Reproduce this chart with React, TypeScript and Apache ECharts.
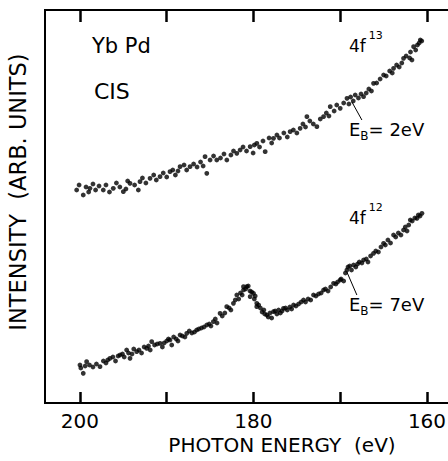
import React, { useEffect, useRef } from "react";
import * as echarts from "echarts";

// Photon energy (eV) and intensity (arb. units)
const upperEnergy: number[] = [
  200.38, 199.62, 198.85, 197.31, 196.16, 195.0, 194.23, 193.08, 193.27, 191.92, 190.77, 189.62, 188.46, 187.31, 185.38,
  185.58, 184.23, 183.07, 181.92, 180.38, 180.04, 181.54, 179.61, 177.69, 178.65, 175.77, 174.62, 173.84, 172.69, 171.92,
  171.15, 170.0, 169.22, 168.27, 167.31, 166.16, 165.0, 163.85, 162.7, 161.73, 161.54, 160.77,
  200.1, 199.3, 199.0, 198.5, 198.2, 197.8, 197.0, 196.6, 195.8, 195.4, 194.7, 194.5, 193.7, 192.8, 192.4, 191.5, 191.2,
  190.4, 190.0, 189.3, 189.0, 188.7, 188.0, 187.7, 186.9, 186.5, 186.1, 185.8, 185.0, 184.6, 183.8, 183.4, 182.6, 182.3,
  181.2, 180.8, 179.9, 179.3, 178.9, 178.2, 177.9, 177.3, 177.0, 176.5, 176.1, 175.4, 175.0, 174.3, 174.0, 173.5, 173.1,
  172.3, 171.6, 171.3, 170.7, 170.4, 169.6, 169.0, 168.8, 168.5, 167.9, 167.6, 167.0, 166.7, 166.4, 165.8, 165.4, 164.7,
  164.3, 164.0, 163.5, 163.2, 162.9, 162.4, 162.0, 161.9, 161.3, 161.1, 160.9, 160.6,
];
const upperIntensity: number[] = [
  213, 208, 214.7, 213, 214.7, 211.3, 219.7, 221.3, 213, 224.7, 226.3, 231.3, 236.3, 236.3, 229.7,
  246.3, 243, 243, 249.7, 256.3, 250, 253, 259.7, 264.7, 251.3, 271.3, 274.7, 286.3, 276.3, 286.3,
  296.3, 294.7, 304.7, 308, 306.3, 319.7, 328, 334.7, 344.7, 343, 356.3, 363,
  218, 216, 211, 219, 213, 217, 218, 211, 220, 216, 214, 222, 218, 225, 220, 228, 223,
  230, 226, 233, 228, 232, 238, 233, 239, 236, 241, 237, 243, 247, 245, 249, 248, 252,
  256, 252, 258, 256, 262, 265, 260, 268, 265, 270, 266, 273, 270, 279, 276, 282, 279,
  284, 290, 287, 292, 298, 300, 299, 306, 302, 305, 309, 310, 314, 312, 320, 324, 327,
  332, 330, 338, 336, 340, 347, 345, 351, 353, 358, 360, 362,
];

const lowerEnergy: number[] = [
  200.0, 199.62, 199.23, 197.69, 196.54, 195.38, 194.62, 194.23, 193.46, 192.31, 191.73, 190.77, 189.62, 189.42, 188.46,
  187.69, 186.54, 185.38, 184.62, 183.85, 183.08, 182.31, 181.92, 181.15, 180.77, 180.0, 179.62, 181.15, 180.38, 179.62,
  178.46, 177.69, 176.54, 175.38, 174.23, 173.08, 171.92, 170.77, 170.0, 169.23, 168.46, 167.31, 166.16, 165.0, 163.85,
  162.7, 161.92, 161.15, 160.58,
  199.9, 199.4, 198.9, 198.5, 198.1, 197.3, 197.0, 196.8, 196.2, 195.9, 195.6, 195.1, 194.9, 194.4, 194.0, 193.8, 193.2,
  192.9, 192.6, 192.1, 191.9, 191.4, 191.1, 190.5, 190.3, 190.0, 189.8, 189.2, 188.9, 188.7, 188.2, 187.9, 187.4, 187.1,
  186.8, 186.3, 186.0, 185.7, 185.1, 184.9, 184.4, 184.2, 183.6, 183.3, 182.8, 182.6, 182.1, 181.7, 181.5, 181.3, 180.9,
  180.6, 180.4, 180.2, 179.9, 179.8, 179.4, 179.2, 179.0, 178.8, 178.7, 178.3, 178.1, 177.9, 177.5, 177.3, 177.1, 176.9,
  176.7, 176.3, 176.1, 175.8, 175.6, 175.1, 174.8, 174.5, 174.0, 173.7, 173.4, 172.8, 172.5, 172.2, 171.7, 171.4, 171.1,
  170.5, 170.3, 169.9, 169.6, 169.4, 169.1, 168.9, 168.7, 168.2, 168.0, 167.8, 167.5, 167.0, 166.8, 166.5, 165.9, 165.6,
  165.3, 164.8, 164.5, 164.2, 163.6, 163.3, 163.0, 162.5, 162.3, 162.1, 161.7, 161.4, 161.0, 160.8,
];
const lowerIntensity: number[] = [
  38, 29.7, 41.3, 36.3, 44.7, 48, 53, 44.7, 51.3, 54.7, 61.3, 59.7, 63, 58, 68,
  69.7, 73, 78, 81.3, 89.7, 96.3, 99.7, 108, 113, 116.3, 109.7, 99.7, 116.3, 106.3, 96.3,
  88, 91.3, 94.7, 98, 103, 108, 113, 119.7, 123, 133, 138, 143, 149.7, 159.7, 168,
  173, 183, 184.7, 189.7,
  35, 37, 38, 36, 39, 42, 40, 43, 46, 42, 47, 49, 46, 50, 49, 54, 53,
  50, 56, 57, 53, 58, 59, 56, 60, 62, 64, 66, 64, 62, 67, 66, 72, 70,
  71, 74, 75, 76, 79, 77, 84, 80, 87, 90, 95, 93, 103, 104, 110, 108, 114,
  117, 112, 111, 104, 107, 98, 95, 91, 93, 89, 86, 90, 85, 92, 89, 93, 90,
  92, 95, 93, 96, 94, 97, 99, 101, 101, 104, 103, 107, 109, 110, 114, 112, 116,
  119, 121, 124, 122, 130, 136, 137, 133, 136, 139, 141, 140, 144, 141, 147, 152, 151,
  156, 158, 163, 160, 166, 170, 168, 176, 172, 178, 182, 185, 188, 187,
];

const tickValues: number[] = [160, 170, 180, 190, 200];
const labelValues: number[] = [160, 180, 200];

const xTitle = "PHOTON ENERGY  (eV)";
const yTitle = "INTENSITY  (ARB. UNITS)";

const FONT = "DejaVu Sans";
const Y_MIN = 0;
const Y_MAX = 393;

export default function App() {
  const ref = useRef<HTMLDivElement>(null);
  useEffect(() => {
    if (!ref.current) return;
    const chart = echarts.init(ref.current, undefined, { renderer: "svg" });
    const upper = upperEnergy.map((e, i) => [e, upperIntensity[i]]);
    const lower = lowerEnergy.map((e, i) => [e, lowerIntensity[i]]);
    const lineStyle = { color: "#000", width: 1, type: "solid" };
    const richSup = {
      a: { fontSize: 17, fontFamily: FONT, lineHeight: 24, verticalAlign: "bottom" },
      s: { fontSize: 11, fontFamily: FONT, lineHeight: 12, verticalAlign: "top", padding: [0, 0, 0, 3] },
    };
    const richSub = {
      a: { fontSize: 18, fontFamily: FONT, lineHeight: 22, verticalAlign: "top" },
      b: { fontSize: 12, fontFamily: FONT, lineHeight: 12, verticalAlign: "bottom" },
    };
    chart.setOption({
      animation: false,
      grid: {
        left: 45,
        right: -3,
        top: 10,
        bottom: 58,
        show: true,
        borderColor: "#000",
        borderWidth: 2,
        outerBoundsMode: "none",
      },
      xAxis: [
        {
          type: "value",
          inverse: true,
          min: 157.23,
          max: 204.03,
          position: "bottom",
          splitLine: { show: false },
          axisLine: { show: true, lineStyle: { color: "#000", width: 2 } },
          axisTick: {
            show: true,
            inside: true,
            length: 11,
            customValues: tickValues,
            lineStyle: { color: "#000", width: 2.5 },
          },
          axisLabel: {
            show: true,
            customValues: labelValues,
            fontSize: 20,
            fontFamily: FONT,
            color: "#000",
            margin: 8,
          },
        },
        {
          type: "value",
          inverse: true,
          min: 157.23,
          max: 204.03,
          position: "top",
          splitLine: { show: false },
          axisLine: { show: true, lineStyle: { color: "#000", width: 2 } },
          axisTick: {
            show: true,
            inside: true,
            length: 12,
            customValues: tickValues,
            lineStyle: { color: "#000", width: 2.5 },
          },
          axisLabel: { show: false },
        },
      ],
      yAxis: {
        type: "value",
        min: Y_MIN,
        max: Y_MAX,
        axisLine: { show: true, lineStyle: { color: "#000", width: 2 } },
        axisTick: { show: false },
        axisLabel: { show: false },
        splitLine: { show: false },
      },
      series: [
        {
          type: "scatter",
          name: "4f13",
          data: upper,
          symbolSize: 4.8,
          itemStyle: { color: "#000" },
          markLine: {
            silent: true,
            symbol: "none",
            label: { show: false },
            lineStyle,
            data: [[{ coord: [168.65, 301] }, { coord: [167.5, 283] }]],
          },
        },
        {
          type: "scatter",
          name: "4f12",
          data: lower,
          symbolSize: 4.8,
          itemStyle: { color: "#000" },
          markLine: {
            silent: true,
            symbol: "none",
            label: { show: false },
            lineStyle,
            data: [[{ coord: [169.23, 131] }, { coord: [168.08, 108] }]],
          },
        },
      ],
      graphic: [
        {
          type: "text",
          x: 18,
          y: 192,
          rotation: Math.PI / 2,
          style: { text: yTitle, fontSize: 22.5, fontFamily: FONT, fill: "#000", align: "center", verticalAlign: "middle" },
        },
        {
          type: "text",
          x: 282,
          y: 445,
          style: { text: xTitle, fontSize: 20, fontFamily: FONT, fill: "#000", align: "center", verticalAlign: "middle" },
        },
        { type: "text", x: 92, y: 46, style: { text: "Yb Pd", fontSize: 21, fontFamily: FONT, fill: "#000", verticalAlign: "middle" } },
        { type: "text", x: 94, y: 91, style: { text: "CIS", fontSize: 22, fontFamily: FONT, fill: "#000", verticalAlign: "middle" } },
        { type: "text", x: 349, y: 42, style: { text: "{a|4f}{s|13}", fill: "#000", verticalAlign: "middle", rich: richSup } },
        { type: "text", x: 349, y: 131, style: { text: "{a|E}{b|B}{a|= 2eV}", fill: "#000", verticalAlign: "middle", rich: richSub } },
        { type: "text", x: 349, y: 214, style: { text: "{a|4f}{s|12}", fill: "#000", verticalAlign: "middle", rich: richSup } },
        { type: "text", x: 349, y: 306, style: { text: "{a|E}{b|B}{a|= 7eV}", fill: "#000", verticalAlign: "middle", rich: richSub } },
      ],
    });
    return () => chart.dispose();
  }, []);
  return <div ref={ref} style={{ position: "absolute", left: 0, top: 0, width: 448, height: 461, background: "#fff" }} />;
}
